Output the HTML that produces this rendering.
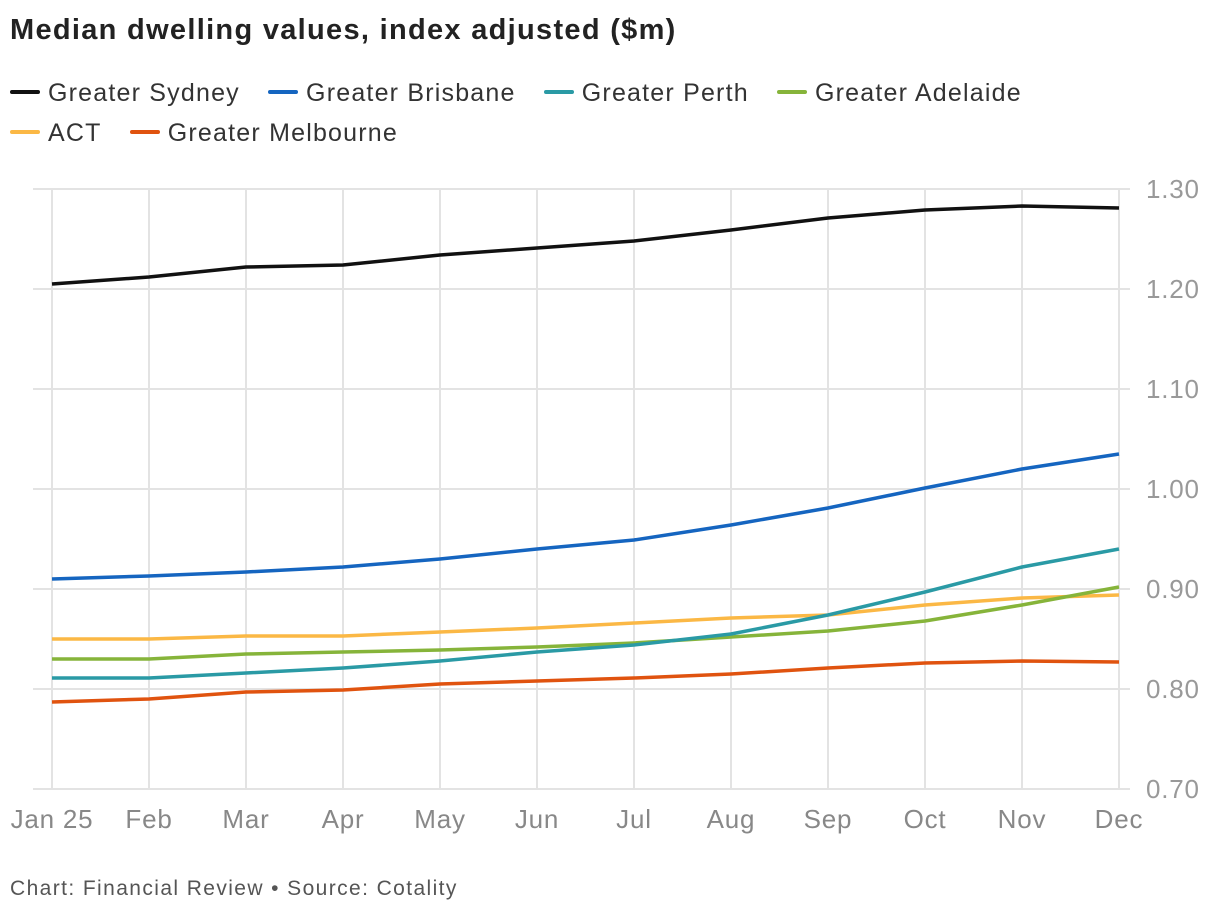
<!DOCTYPE html>
<html><head><meta charset="utf-8">
<style>
body{margin:0;background:#fff;font-family:"Liberation Sans",sans-serif;}
#wrap{position:relative;width:1220px;height:920px;}
.title{position:absolute;left:10px;top:14px;font-size:29px;font-weight:bold;color:#222;letter-spacing:1.3px;}
.legend{position:absolute;left:10px;top:76px;width:1150px;font-size:25px;color:#333;letter-spacing:1.2px;}
.le{display:inline-block;margin-right:20px;height:40px;line-height:34px;}
.sw{display:inline-block;width:30px;height:4px;vertical-align:middle;margin-right:8px;border-radius:2px;position:relative;top:-2px;}
.foot{position:absolute;left:10px;top:877px;font-size:21px;color:#555;letter-spacing:1.4px;}
</style></head><body>
<div id="wrap">
<div class="title">Median dwelling values, index adjusted ($m)</div>
<div class="legend">
<span class="le"><span class="sw" style="background:#111"></span>Greater Sydney</span>
<span class="le"><span class="sw" style="background:#1565c0"></span>Greater Brisbane</span>
<span class="le"><span class="sw" style="background:#2a9aa5"></span>Greater Perth</span>
<span class="le"><span class="sw" style="background:#86b43a"></span>Greater Adelaide</span><br>
<span class="le"><span class="sw" style="background:#fbb845"></span>ACT</span>
<span class="le"><span class="sw" style="background:#e0530f"></span>Greater Melbourne</span>
</div>
<svg id="svg" width="1220" height="920" style="position:absolute;left:0;top:0"></svg>
<div class="foot">Chart: Financial Review • Source: Cotality</div>
</div>
<script>
const categories=["Jan 25","Feb","Mar","Apr","May","Jun","Jul","Aug","Sep","Oct","Nov","Dec"];
const yTicks=[0.70,0.80,0.90,1.00,1.10,1.20,1.30];
const sydney=[1.205,1.212,1.222,1.224,1.234,1.241,1.248,1.259,1.271,1.279,1.283,1.281];
const brisbane=[0.910,0.913,0.917,0.922,0.930,0.940,0.949,0.964,0.981,1.001,1.020,1.035];
const perth=[0.811,0.811,0.816,0.821,0.828,0.837,0.844,0.855,0.874,0.897,0.922,0.940];
const adelaide=[0.830,0.830,0.835,0.837,0.839,0.842,0.846,0.852,0.858,0.868,0.884,0.902];
const act=[0.850,0.850,0.853,0.853,0.857,0.861,0.866,0.871,0.874,0.884,0.891,0.894];
const melbourne=[0.787,0.790,0.797,0.799,0.805,0.808,0.811,0.815,0.821,0.826,0.828,0.827];
const NS="http://www.w3.org/2000/svg";
const svg=document.getElementById('svg');
const x=i=>52+i*(1119-52)/(categories.length-1);
const y=v=>789-(v-0.70)/0.60*600;
function mk(t,a){const e=document.createElementNS(NS,t);for(const k in a)e.setAttribute(k,a[k]);svg.appendChild(e);return e;}
yTicks.forEach(t=>{
 const l=mk('line',{x1:33,x2:1130,y1:y(t),y2:y(t),stroke:'#e3e3e3','stroke-width':2});
 
 
 const tx=mk('text',{x:1146,y:y(t)+9,'font-size':26,fill:'#999','letter-spacing':'0.8','font-family':'Liberation Sans, sans-serif'});
 tx.textContent=t.toFixed(2);
 
 
});
categories.forEach((c,i)=>{
 const l=mk('line',{x1:x(i),x2:x(i),y1:189,y2:789,stroke:'#e3e3e3','stroke-width':2});
 
 
 const tx=mk('text',{x:x(i),y:828,'font-size':26,fill:'#888','text-anchor':'middle','letter-spacing':'0.8','font-family':'Liberation Sans, sans-serif'});
 tx.textContent=c;
 
 
});
const series=[[sydney,'#111','sydney'],[act,'#fbb845','act'],[adelaide,'#86b43a','adelaide'],[perth,'#2a9aa5','perth'],[melbourne,'#e0530f','melbourne'],[brisbane,'#1565c0','brisbane']];
series.forEach(([d,c,n])=>{
 const p=mk('polyline',{points:d.map((v,i)=>x(i)+','+y(v)).join(' '),fill:'none',stroke:c,'stroke-width':3.5,'stroke-linejoin':'round'});
 
 
});
</script>
</body></html>
